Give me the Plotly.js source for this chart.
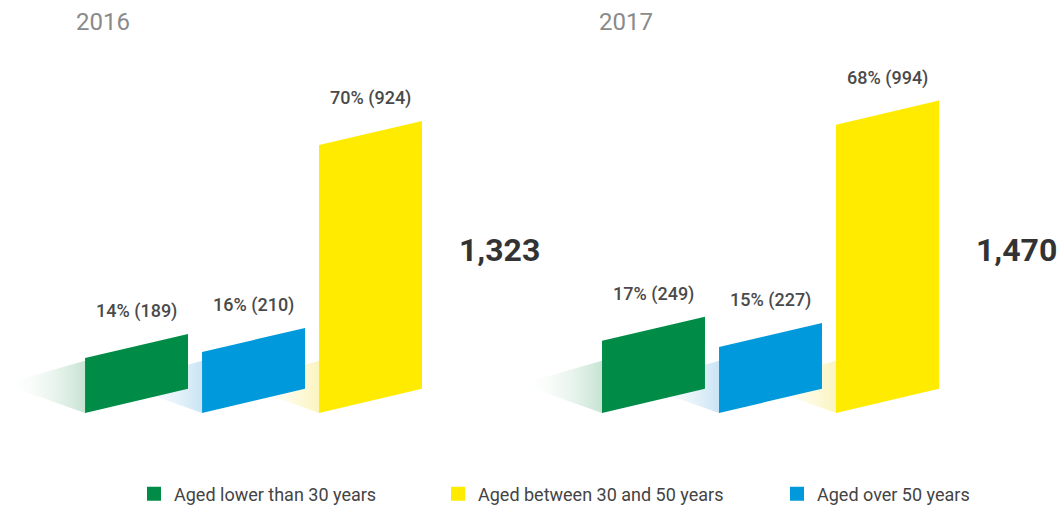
<!DOCTYPE html>
<html>
<head>
<meta charset="utf-8">
<script src="https://cdn.plot.ly/plotly-3.0.1.min.js"></script>
<style>html,body{margin:0;padding:0;background:#fff;}#chart{width:1059px;height:508px;}</style>
</head>
<body>
<div id="chart"></div>
<script>
// ---- data ----
const years = ['2016', '2017'];
const barGroups = ['Aged lower than 30 years', 'Aged over 50 years', 'Aged between 30 and 50 years'];
const values2016 = [189, 210, 924];
const values2017 = [249, 227, 994];
const pct2016 = [14, 16, 70];
const pct2017 = [17, 15, 68];
const totals = [1323, 1470];
const legendOrder = ['Aged lower than 30 years', 'Aged between 30 and 50 years', 'Aged over 50 years'];

// ---- styles ----
const barColors = {'Aged lower than 30 years': '#008C47', 'Aged over 50 years': '#0099DC', 'Aged between 30 and 50 years': '#FFEB00'};
const shadowColors = {'Aged lower than 30 years': '#c6e3d2', 'Aged over 50 years': '#c9e4f4', 'Aged between 30 and 50 years': '#fbf4bf'};
const HALF = 0.44;      // half bar width (x units)
const SLANT = 83;       // rise of bar edges across bar width (y units)
const SH_LEN = 0.7;     // shadow length (x units)
const SH_TIP = 100;     // shadow tip height (y units)
const SH_TOP = 180;     // shadow top height at bar (y units)
const FONT = 'Roboto, "Open Sans", sans-serif';

const panels = [
  {values: values2016, pct: pct2016, xa: 'x', total: totals[0]},
  {values: values2017, pct: pct2017, xa: 'x2', total: totals[1]}
];

const shadowTraces = [], barTraces = [], annotations = [];

panels.forEach((p, pi) => {
  p.values.forEach((v, i) => {
    const g = barGroups[i];
    const xl = i - HALF, xr = i + HALF;
    shadowTraces.push({
      type: 'scatter', mode: 'lines', xaxis: p.xa, yaxis: 'y',
      x: [xl, xl - SH_LEN, xl, xl],
      y: [0, SH_TIP, SH_TOP, 0],
      fill: 'toself', line: {width: 0},
      fillgradient: {type: 'horizontal', colorscale: [[0, 'rgba(255,255,255,0)'], [1, shadowColors[g]]]},
      hoverinfo: 'skip', showlegend: false
    });
    barTraces.push({
      type: 'scatter', mode: 'lines', xaxis: p.xa, yaxis: 'y',
      x: [xl, xr, xr, xl, xl],
      y: [0, SLANT, v + SLANT, v, 0],
      fill: 'toself', fillcolor: barColors[g], line: {width: 0},
      name: g, hoverinfo: 'skip', showlegend: false
    });
    annotations.push({
      xref: p.xa, yref: 'y', x: i, y: v + SLANT,
      text: p.pct[i] + '% (' + v + ')', showarrow: false,
      xanchor: 'center', yanchor: 'bottom', yshift: 10,
      font: {family: FONT, size: 18, color: '#4a4a4a', weight: 500}
    });
  });
  annotations.push({
    xref: p.xa, yref: 'paper', x: 3.1, y: 1 - 250 / 508,
    text: p.total.toLocaleString('en-US'), showarrow: false,
    xanchor: 'center', yanchor: 'middle',
    font: {family: FONT, size: 32, color: '#333333', weight: 700}
  });
});

annotations.push(
  {xref: 'paper', yref: 'paper', x: 103 / 1059, y: 1 - 22 / 508, text: years[0], showarrow: false,
   xanchor: 'center', yanchor: 'middle', font: {family: FONT, size: 24, color: '#8a8a8a'}},
  {xref: 'paper', yref: 'paper', x: 626 / 1059, y: 1 - 22 / 508, text: years[1], showarrow: false,
   xanchor: 'center', yanchor: 'middle', font: {family: FONT, size: 24, color: '#8a8a8a'}}
);

const legendNames = ['legend', 'legend2', 'legend3'];
const legendX = [134, 438, 777];
const legendTraces = legendOrder.map((g, i) => ({
  type: 'scatter', mode: 'markers', x: [null], y: [null], xaxis: 'x', yaxis: 'y',
  name: g, legend: legendNames[i],
  marker: {symbol: 'square', size: 14, color: barColors[g]},
  hoverinfo: 'skip', showlegend: true
}));

const legendStyle = (px) => ({
  x: px / 1059, y: 1 - 494 / 508, xanchor: 'left', yanchor: 'middle',
  orientation: 'h', bgcolor: 'rgba(0,0,0,0)', borderwidth: 0,
  font: {family: FONT, size: 18, color: '#444444'}
});

const hiddenAxis = {visible: false, showgrid: false, zeroline: false, fixedrange: true};
const layout = {
  width: 1059, height: 508,
  margin: {l: 0, r: 0, t: 0, b: 0, autoexpand: false},
  paper_bgcolor: '#ffffff', plot_bgcolor: 'rgba(0,0,0,0)',
  showlegend: true,
  xaxis: Object.assign({}, hiddenAxis, {domain: [2 / 1059, 522.6 / 1059], range: [-1.15, 3.3], anchor: 'y'}),
  xaxis2: Object.assign({}, hiddenAxis, {domain: [518.95 / 1059, 1039.6 / 1059], range: [-1.15, 3.3], anchor: 'y'}),
  yaxis: Object.assign({}, hiddenAxis, {domain: [0, 1], range: [-328, 1424]}),
  legend: legendStyle(legendX[0]),
  legend2: legendStyle(legendX[1]),
  legend3: legendStyle(legendX[2]),
  annotations: annotations
};

Plotly.newPlot('chart', shadowTraces.concat(barTraces, legendTraces), layout, {displayModeBar: false, staticPlot: true});
</script>
</body>
</html>
